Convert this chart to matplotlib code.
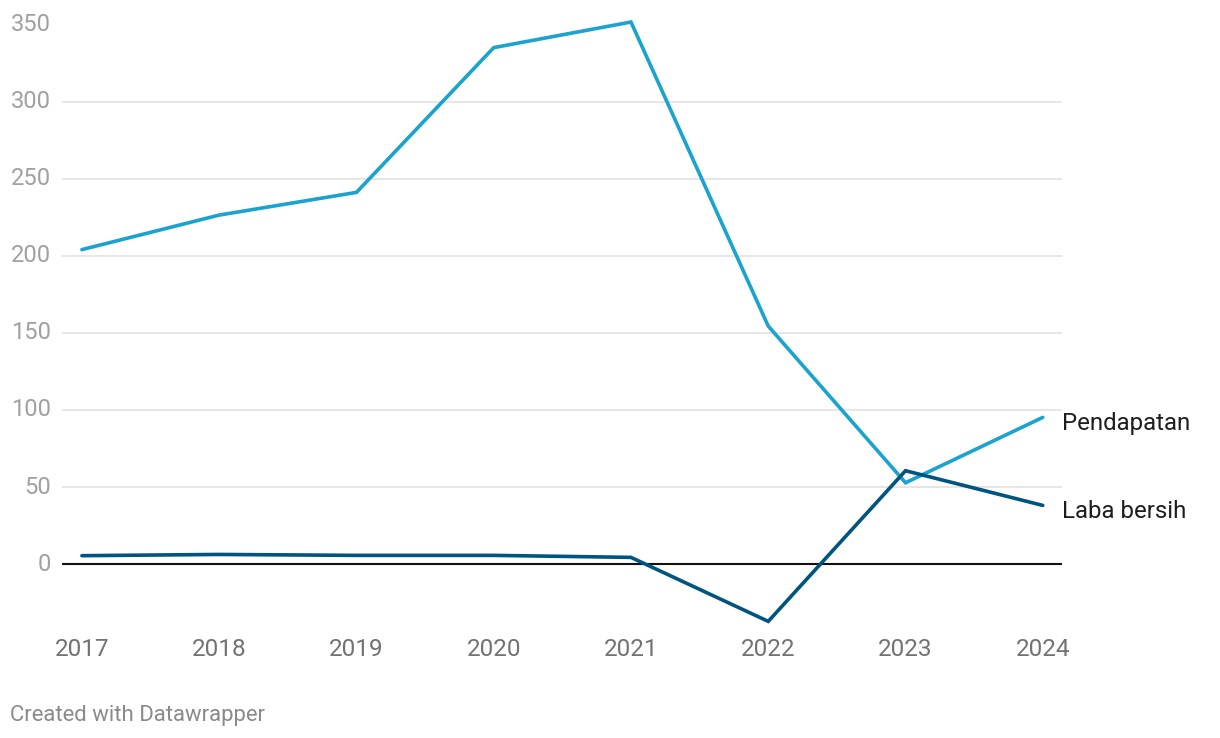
import matplotlib
matplotlib.use("Agg")
import matplotlib.pyplot as plt

plt.rcParams['font.family'] = ['Roboto', 'DejaVu Sans']

years = [2017, 2018, 2019, 2020, 2021, 2022, 2023, 2024]
pendapatan = [204, 226.4, 241.1, 335, 351.6, 154.4, 52.8, 95.2]
laba_bersih = [5.5, 6.3, 5.7, 5.7, 4.4, -37.1, 60.6, 38.1]
y_ticks = [0, 50, 100, 150, 200, 250, 300, 350]
series_labels = ["Pendapatan", "Laba bersih"]

W, H = 1220, 738
fig = plt.figure(figsize=(W / 100, H / 100), dpi=100)
left_px, right_px = 62, 1062
top_px, bottom_px = 24.5, 630
ax = fig.add_axes([left_px / W, 1 - bottom_px / H,
                   (right_px - left_px) / W, (bottom_px - top_px) / H])

ax.set_xlim(2016.855, 2024.14)
ax.set_ylim(-42.7, 350)

for t in y_ticks:
    if t == 0:
        ax.axhline(0, color='#111111', lw=1.5, zorder=3)
    else:
        ax.axhline(t, color='#e2e2e2', lw=1.2, zorder=1)

c_pend = '#1aa3cf'
c_laba = '#005480'
ax.plot(years, pendapatan, color=c_pend, lw=2.6, clip_on=False, zorder=4,
        solid_capstyle='round', solid_joinstyle='miter')
ax.plot(years, laba_bersih, color=c_laba, lw=2.6, clip_on=False, zorder=5,
        solid_capstyle='round', solid_joinstyle='miter')

for s in ax.spines.values():
    s.set_visible(False)
ax.set_xticks([])
ax.set_yticks([])

# y tick labels
for t in y_ticks:
    ax.annotate(str(t), xy=(0, t), xycoords=('axes fraction', 'data'),
                xytext=(-11, 0), textcoords='offset pixels',
                ha='right', va='center', fontsize=17, color='#a0a0a0')

# x tick labels
for yr in years:
    ax.annotate(str(yr), xy=(yr, 0), xycoords=('data', 'axes fraction'),
                xytext=(0, -20), textcoords='offset pixels',
                ha='center', va='center', fontsize=17.5, color='#727272')

# series labels
ax.annotate(series_labels[0], xy=(1, pendapatan[-1]), xycoords=('axes fraction', 'data'),
            xytext=(0, -6), textcoords='offset pixels',
            ha='left', va='center', fontsize=17.3, color='#1e1e1e')
ax.annotate(series_labels[1], xy=(1, laba_bersih[-1]), xycoords=('axes fraction', 'data'),
            xytext=(0, -6), textcoords='offset pixels',
            ha='left', va='center', fontsize=17.3, color='#1e1e1e')

fig.text(10 / W, 1 - 715 / H, "Created with Datawrapper", ha='left', va='center',
         fontsize=15.9, color='#8a8a8a')

fig.savefig("out.png", dpi=100, facecolor='white')
